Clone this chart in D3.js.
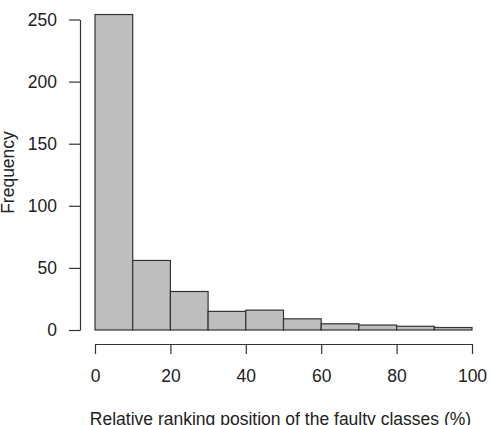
<!DOCTYPE html>
<html>
<head>
<meta charset="utf-8">
<script src="https://cdn.jsdelivr.net/npm/d3@7"></script>
<style>
  body { margin: 0; background: #fff; }
  svg text { font-family: "Liberation Sans", Arial, sans-serif; fill: #222; }
</style>
</head>
<body>
<div id="chart"></div>
<script>
// histogram bins (%) and counts
const binStarts = [0, 10, 20, 30, 40, 50, 60, 70, 80, 90];
const binWidth = 10;
const counts = [254, 56, 31, 15, 16, 9, 5, 4, 3, 2];
const xTicks = [0, 20, 40, 60, 80, 100];
const yTicks = [0, 50, 100, 150, 200, 250];

const svg = d3.select("#chart")
    .append("svg")
    .attr("width", 492)
    .attr("height", 425);

const x = d3.scaleLinear()
    .domain([0, 100])
    .range([95, 472]);

const y = d3.scaleLinear()
    .domain([0, 250])
    .range([330, 19.5]);

// bars
svg.selectAll(".bar")
    .data(binStarts)
    .enter().append("rect")
    .attr("class", "bar")
    .attr("x", d => x(d))
    .attr("y", (d, i) => y(counts[i]))
    .attr("width", d => x(d + binWidth) - x(d))
    .attr("height", (d, i) => y(0) - y(counts[i]))
    .attr("fill", "#bebebe")
    .attr("stroke", "#333")
    .attr("stroke-width", 1.2);

// y axis, R style
const yAxis = svg.append("g")
    .attr("transform", "translate(80,0)")
    .call(d3.axisLeft(y).tickValues(yTicks).tickSize(11).tickPadding(12).tickSizeOuter(0));
yAxis.select(".domain").attr("stroke", "#333").attr("stroke-width", 1.2);
yAxis.selectAll(".tick line").attr("stroke", "#333").attr("stroke-width", 1.2);
yAxis.selectAll(".tick text").attr("font-size", 17.5).attr("fill", "#222");

// x axis, offset below the bars
const xAxis = svg.append("g")
    .attr("transform", "translate(0,344)")
    .call(d3.axisBottom(x).tickValues(xTicks).tickSize(10).tickPadding(16).tickSizeOuter(0));
xAxis.select(".domain").attr("stroke", "#333").attr("stroke-width", 1.2);
xAxis.selectAll(".tick line").attr("stroke", "#333").attr("stroke-width", 1.2);
xAxis.selectAll(".tick text").attr("font-size", 17.5).attr("fill", "#222");

svg.append("text")
    .attr("x", x(50) - 3)
    .attr("y", 425)
    .attr("text-anchor", "middle")
    .attr("font-size", 17.5)
    .text("Relative ranking position of the faulty classes (%)");

svg.append("text")
    .attr("transform", "translate(14,172.5) rotate(-90)")
    .attr("text-anchor", "middle")
    .attr("font-size", 17.5)
    .text("Frequency");
</script>
</body>
</html>
